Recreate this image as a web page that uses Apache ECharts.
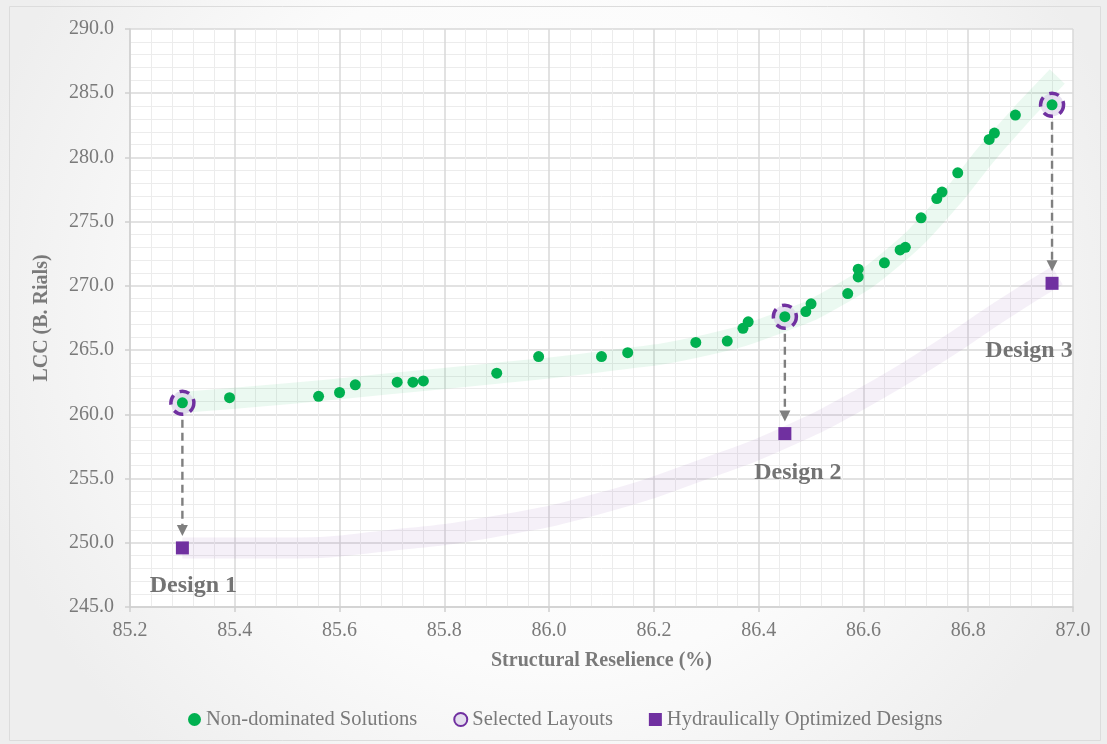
<!DOCTYPE html>
<html>
<head>
<meta charset="utf-8">
<script src="https://cdn.jsdelivr.net/npm/echarts@6/dist/echarts.min.js"></script>
<style>
  html, body { margin: 0; padding: 0; background: #ffffff; }
  #chart { width: 1107px; height: 744px; }
</style>
</head>
<body>
<div id="chart"></div>
<script>
// ---- Data ----
const nonDominatedX = [85.30, 85.39, 85.56, 85.60, 85.63, 85.71, 85.74, 85.76, 85.90, 85.98,
                       86.10, 86.15, 86.28, 86.34, 86.37, 86.38, 86.45, 86.49, 86.50, 86.57,
                       86.59, 86.59, 86.64, 86.67, 86.68, 86.71, 86.74, 86.75, 86.78, 86.84,
                       86.85, 86.89, 86.96];
const nonDominatedY = [260.9, 261.3, 261.4, 261.7, 262.3, 262.5, 262.5, 262.6, 263.2, 264.5,
                       264.5, 264.8, 265.6, 265.7, 266.7, 267.2, 267.6, 268.0, 268.6, 269.4,
                       270.7, 271.3, 271.8, 272.8, 273.0, 275.3, 276.8, 277.3, 278.8, 281.4,
                       281.9, 283.3, 284.1];
const designX = [85.30, 86.45, 86.96];
const selectedY = [260.9, 267.6, 284.1];
const hydraulicY = [249.6, 258.5, 270.2];
const designNames = ['Design 1', 'Design 2', 'Design 3'];
const paretoTrend = [[85.29, 260.9], [85.5, 261.6], [85.7, 262.4], [85.9, 263.2], [86.1, 264.1],
                     [86.3, 265.4], [86.45, 267.3], [86.55, 269.2], [86.65, 272.0], [86.75, 276.0],
                     [86.85, 281.0], [86.97, 286.3]];
const hydraulicTrend = [[85.30, 249.6], [85.5, 249.6], [85.7, 250.2], [85.9, 251.3], [86.1, 253.1],
                        [86.3, 255.8], [86.45, 258.2], [86.6, 261.3], [86.75, 265.0], [86.86, 268.0],
                        [86.97, 270.8]];
const xTicks = { min: 85.2, max: 87.0, step: 0.2 };
const yTicks = { min: 245, max: 290, step: 5 };

const labelOffsets = [[11, 38], [13, 39], [-23, 67]];
const GREY = '#7a7a7a';
const FONT = 'Liberation Serif';

const chart = echarts.init(document.getElementById('chart'));
const option = {
  animation: false,
  backgroundColor: {
    type: 'radial', x: 0.5, y: 0.42, r: 0.8,
    colorStops: [{ offset: 0, color: '#ffffff' }, { offset: 0.6, color: '#fbfbfb' }, { offset: 1, color: '#eeeeee' }]
  },
  graphic: [{
    type: 'rect', silent: true, z: -1,
    shape: { x: 9.5, y: 6.5, width: 1091, height: 734 },
    style: { fill: null, stroke: '#dcdcdc', lineWidth: 1 }
  }],
  grid: { left: 130, right: 34, top: 29, bottom: 137, show: true, backgroundColor: '#ffffff', borderWidth: 0 },
  legend: {
    top: 704, left: 183,
    itemGap: 36, itemWidth: 13, itemHeight: 13,
    textStyle: { fontFamily: FONT, fontSize: 20.5, color: GREY },
    data: ['Non-dominated Solutions', 'Selected Layouts', 'Hydraulically Optimized Designs']
  },
  xAxis: {
    type: 'value', min: xTicks.min, max: xTicks.max, interval: xTicks.step,
    name: 'Structural Reselience (%)', nameLocation: 'middle', nameGap: 44,
    nameTextStyle: { fontFamily: FONT, fontSize: 20, fontWeight: 'bold', color: GREY },
    axisLine: { show: true, lineStyle: { color: '#d0d0d0', width: 1.5 } },
    axisTick: { show: true, length: 5, lineStyle: { color: '#d0d0d0', width: 1.5 } },
    axisLabel: { margin: 14, fontFamily: FONT, fontSize: 20, color: GREY, formatter: v => v.toFixed(1) },
    splitLine: { show: true, lineStyle: { color: '#d9d9d9', width: 1.5 } },
    minorTick: { show: false, splitNumber: 5 },
    minorSplitLine: { show: true, lineStyle: { color: '#ececec', width: 1 } }
  },
  yAxis: {
    type: 'value', min: yTicks.min, max: yTicks.max, interval: yTicks.step,
    name: 'LCC (B. Rials)', nameLocation: 'middle', nameGap: 78,
    nameTextStyle: { fontFamily: FONT, fontSize: 20, fontWeight: 'bold', color: GREY },
    axisLine: { show: true, lineStyle: { color: '#d0d0d0', width: 1.5 } },
    axisTick: { show: true, length: 5, lineStyle: { color: '#d0d0d0', width: 1.5 } },
    axisLabel: { margin: 16, fontFamily: FONT, fontSize: 20, color: GREY, formatter: v => v.toFixed(1) },
    splitLine: { show: true, lineStyle: { color: '#d9d9d9', width: 1.5 } },
    minorTick: { show: false, splitNumber: 5 },
    minorSplitLine: { show: true, lineStyle: { color: '#ececec', width: 1 } }
  },
  series: [
    {
      name: 'paretoTrend', type: 'line', data: paretoTrend, smooth: 0.5, symbol: 'none', silent: true, z: 1,
      lineStyle: { color: 'rgba(0,176,80,0.08)', width: 21, cap: 'butt', join: 'round' }
    },
    {
      name: 'hydraulicTrend', type: 'line', data: hydraulicTrend, smooth: 0.5, symbol: 'none', silent: true, z: 1,
      lineStyle: { color: 'rgba(112,48,160,0.07)', width: 21, cap: 'butt', join: 'round' }
    },
    {
      name: 'arrows', type: 'custom', silent: true, z: 2,
      data: designX.map((x, i) => [x, selectedY[i], hydraulicY[i]]),
      encode: { x: 0, y: [1, 2] },
      renderItem: function (params, api) {
        const p1 = api.coord([api.value(0), api.value(1)]);
        const p2 = api.coord([api.value(0), api.value(2)]);
        const x = p1[0];
        const yStart = p1[1] + 17;
        const tip = p2[1] - 12;
        return {
          type: 'group',
          children: [
            { type: 'line', shape: { x1: x, y1: yStart, x2: x, y2: tip - 9 },
              style: { stroke: '#7f7f7f', lineWidth: 2.4, lineDash: [8, 5] } },
            { type: 'polygon', shape: { points: [[x - 5.5, tip - 11], [x + 5.5, tip - 11], [x, tip]] },
              style: { fill: '#7f7f7f' } }
          ]
        };
      }
    },
    {
      name: 'Selected Layouts', type: 'scatter', z: 3,
      data: designX.map((x, i) => [x, selectedY[i]]),
      symbol: 'circle', symbolSize: 23,
      itemStyle: { opacity: 1, color: 'rgba(215,205,232,0.6)', borderColor: '#7030A0', borderWidth: 3.5, borderType: [10, 7] }
    },
    {
      name: 'Non-dominated Solutions', type: 'scatter', z: 4,
      data: nonDominatedX.map((x, i) => [x, nonDominatedY[i]]),
      symbol: 'circle', symbolSize: 11,
      itemStyle: { opacity: 1, color: '#00B050' }
    },
    {
      name: 'Hydraulically Optimized Designs', type: 'scatter', z: 4,
      data: designX.map((x, i) => ({
        value: [x, hydraulicY[i]],
        label: {
          show: true, formatter: designNames[i], position: 'inside',
          offset: labelOffsets[i], fontFamily: FONT, fontSize: 24, fontWeight: 'bold', color: '#737373'
        }
      })),
      symbol: 'rect', symbolSize: 13,
      itemStyle: { opacity: 1, color: '#7030A0' }
    }
  ]
};
chart.setOption(option);
</script>
</body>
</html>
